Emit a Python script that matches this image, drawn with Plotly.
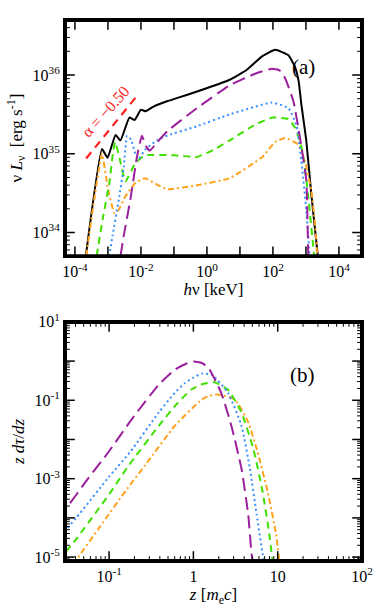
import numpy as np
import plotly.graph_objects as go
from plotly.subplots import make_subplots

# ---------------- Panel (a): spectra, log10(E/keV) vs log10(nu L_nu) ----------------
black_logE = [-3.67, -3.18, -3.01, -2.77, -2.62, -2.35, -2.19, -2.0, -1.86, -1.62, -1.19, -0.89,
              -0.3, 0.69, 1.19, 1.68, 2.07, 2.47, 2.67, 2.78, 2.86, 3.01, 3.16, 3.36]
black_logL = [33.7, 35.06, 34.95, 35.24, 35.17, 35.46, 35.43, 35.56, 35.54, 35.60, 35.67, 35.71,
              35.79, 35.94, 36.06, 36.24, 36.32, 36.25, 36.1, 35.92, 35.63, 35.17, 34.5, 33.7]

purple_logE = [-2.62, -2.52, -2.32, -2.12, -1.97, -1.85, -1.73, -1.5, -1.19, -0.3, 0.69, 1.48,
               1.97, 2.2, 2.37, 2.62, 2.77, 2.86, 3.01, 3.07]
purple_logL = [33.7, 33.96, 34.42, 34.96, 35.23, 35.1, 35.04, 35.15, 35.29, 35.58, 35.87, 36.02,
               36.08, 36.06, 35.96, 35.67, 35.33, 35.1, 34.67, 33.7]

blue_logE = [-2.96, -2.86, -2.67, -2.52, -2.42, -2.3, -2.17, -2.07, -1.88, -1.58, -1.28, -0.3,
             0.69, 1.97, 2.47, 2.72, 2.86, 3.01, 3.11]
blue_logL = [33.7, 33.96, 34.42, 34.83, 35.23, 35.18, 35.0, 34.93, 35.05, 35.15, 35.22, 35.35,
             35.5, 35.65, 35.58, 35.35, 34.92, 34.29, 33.7]

green_logE = [-3.34, -3.16, -2.96, -2.85, -2.78, -2.65, -2.47, -2.17, -1.88, -1.0, -0.3, 0.2,
              0.69, 1.5, 2.0, 2.47, 2.67, 2.81, 2.91, 3.06, 3.21, 3.25]
green_logL = [33.7, 34.17, 34.62, 35.0, 35.15, 34.95, 34.65, 34.88, 34.98, 34.98, 34.96, 35.05,
              35.17, 35.38, 35.46, 35.44, 35.33, 35.17, 35.0, 34.5, 33.87, 33.7]

orange_logE = [-3.66, -3.18, -3.01, -2.81, -2.7, -2.47, -2.17, -1.88, -1.48, -1.19, -0.3, 0.69,
               1.68, 2.07, 2.37, 2.76, 2.96, 3.16, 3.26, 3.31, 3.34]
orange_logL = [33.7, 35.0, 34.58, 34.25, 34.27, 34.46, 34.63, 34.69, 34.6, 34.55, 34.6, 34.69,
               34.96, 35.15, 35.2, 35.12, 34.92, 34.54, 34.17, 33.92, 33.7]

alpha_logE = [-3.66, -2.13]
alpha_logL = [34.94, 35.73]
alpha_label = "α = −0.50"

# ---------------- Panel (b): z dtau/dz, log10 z vs log10 value ----------------
pb_purple_logz = [-1.6, -1.53, -1.25, -1.0, -0.73, -0.41, -0.22, -0.1, 0.0, 0.1, 0.18, 0.33, 0.45, 0.57,
                  0.65, 0.69, 0.72]
pb_purple_logv = [-4.0, -3.82, -3.0, -2.3, -1.48, -0.6, -0.22, -0.08, -0.01, -0.05, -0.18, -0.81, -1.65,
                  -2.74, -3.91, -4.91, -5.3]

pb_blue_logz = [-1.6, -1.53, -1.39, -1.0, -0.75, -0.41, -0.22, -0.1, 0.0, 0.1, 0.22, 0.41, 0.57, 0.67,
                0.75, 0.82, 0.85]
pb_blue_logv = [-4.55, -4.35, -4.0, -2.95, -2.32, -1.31, -0.81, -0.56, -0.42, -0.32, -0.35, -0.81,
                -1.65, -2.74, -3.91, -4.91, -5.3]

pb_green_logz = [-1.6, -1.53, -1.39, -1.0, -0.78, -0.41, -0.2, -0.02, 0.12, 0.25, 0.41, 0.57, 0.71,
                 0.82, 0.90, 0.95]
pb_green_logv = [-5.1, -4.91, -4.54, -3.4, -2.7, -1.65, -1.1, -0.72, -0.58, -0.54, -0.73, -1.31,
                 -2.23, -3.32, -4.41, -5.3]

pb_orange_logz = [-1.42, -1.39, -1.1, -0.8, -0.57, -0.22, 0.1, 0.2, 0.29, 0.49, 0.65, 0.76, 0.88,
                  0.98, 1.03]
pb_orange_logv = [-5.2, -5.08, -4.2, -3.3, -2.65, -1.65, -0.98, -0.88, -0.85, -0.98, -1.56, -2.31,
                  -3.32, -4.41, -5.3]

# tick labels
a_x_tickvals = [1e-4, 1e-3, 1e-2, 1e-1, 1, 10, 100, 1e3, 1e4]
a_x_ticktext = ["10<sup>-4</sup>", "", "10<sup>-2</sup>", "", "10<sup>0</sup>", "", "10<sup>2</sup>", "",
                "10<sup>4</sup>"]
a_y_tickvals = [1e34, 1e35, 1e36]
a_y_ticktext = ["10<sup>34</sup>", "10<sup>35</sup>", "10<sup>36</sup>"]
b_x_tickvals = [0.1, 1, 10, 100]
b_x_ticktext = ["10<sup>-1</sup>", "1", "10", "10<sup>2</sup>"]
b_y_tickvals = [1e-5, 1e-4, 1e-3, 1e-2, 1e-1, 1, 10]
b_y_ticktext = ["10<sup>-5</sup>", "", "10<sup>-3</sup>", "", "10<sup>-1</sup>", "", "10<sup>1</sup>"]

A_XR = [float(np.log10(5e-5)), float(np.log10(5e4))]
A_YR = [float(np.log10(5e33)), float(np.log10(5e36))]
B_XR = [float(np.log10(0.03)), 2.0]
B_YR = [-5.1, 1.0]


def minor_vals(lo, hi):
    return [m * 10.0 ** d for d in range(lo, hi) for m in range(2, 10)]


P = lambda a: 10 ** np.array(a, dtype=float)

PURPLE = "#9c1f9e"
BLUE = "#3a8fff"
GREEN = "#3fe000"
ORANGE = "#ffa21f"
RED = "#ff2020"

# figure geometry (px)
W, H = 382, 611
ML, MR, MT, MB = 65, 14, 9, 50
A_DOM = [0.5634, 1.0]
B_DOM = [0.0, 0.442]
PW = W - ML - MR
PH = H - MT - MB
A_H = PH * (A_DOM[1] - A_DOM[0])
B_H = PH * (B_DOM[1] - B_DOM[0])

fig = make_subplots(rows=2, cols=1, vertical_spacing=0.0)

styles = [
    ("black", "solid", black_logE, black_logL),
    (ORANGE, "6px,3px,2px,3px", orange_logE, orange_logL),
    (GREEN, "7px,5px", green_logE, green_logL),
    (BLUE, "2px,3px", blue_logE, blue_logL),
    (PURPLE, "13px,6px", purple_logE, purple_logL),
]
for col, dash, xe, yl in styles:
    fig.add_trace(go.Scatter(x=P(xe), y=P(yl), mode="lines",
                             line=dict(color=col, width=2, dash=dash, shape="spline", smoothing=0.4),
                             showlegend=False, hoverinfo="skip"), row=1, col=1)

fig.add_trace(go.Scatter(x=P(alpha_logE), y=P(alpha_logL), mode="lines",
                         line=dict(color=RED, width=2.2, dash="8px,6px"),
                         showlegend=False, hoverinfo="skip"), row=1, col=1)

bstyles = [
    (ORANGE, "6px,3px,2px,3px", pb_orange_logz, pb_orange_logv),
    (GREEN, "7px,5px", pb_green_logz, pb_green_logv),
    (BLUE, "2px,3px", pb_blue_logz, pb_blue_logv),
    (PURPLE, "13px,6px", pb_purple_logz, pb_purple_logv),
]
for col, dash, xz, yv in bstyles:
    fig.add_trace(go.Scatter(x=P(xz), y=P(yv), mode="lines",
                             line=dict(color=col, width=2, dash=dash, shape="spline", smoothing=0.5),
                             showlegend=False, hoverinfo="skip"), row=2, col=1)


# ---- frame and tick marks as line traces, positions derived from the axis ranges ----
def x_ticks(vals, xr, yr, ph, length):
    xs, ys = [], []
    d = length / ph * (yr[1] - yr[0])
    for v in vals:
        lv = np.log10(v)
        if not (xr[0] < lv < xr[1]):
            continue
        xs += [v, v, None, v, v, None]
        ys += [10 ** yr[0], 10 ** (yr[0] + d), None, 10 ** yr[1], 10 ** (yr[1] - d), None]
    return xs, ys


def y_ticks(vals, xr, yr, pw, length):
    xs, ys = [], []
    d = length / pw * (xr[1] - xr[0])
    for v in vals:
        lv = np.log10(v)
        if not (yr[0] < lv < yr[1]):
            continue
        ys += [v, v, None, v, v, None]
        xs += [10 ** xr[0], 10 ** (xr[0] + d), None, 10 ** xr[1], 10 ** (xr[1] - d), None]
    return xs, ys


def frame(xr, yr):
    x0, x1, y0, y1 = 10 ** xr[0], 10 ** xr[1], 10 ** yr[0], 10 ** yr[1]
    return [x0, x1, x1, x0, x0], [y0, y0, y1, y1, y0]


MAJ, MIN = 10, 5
deco = {
    1: [(x_ticks(a_x_tickvals, A_XR, A_YR, A_H, MAJ), 1.5),
        (y_ticks(a_y_tickvals, A_XR, A_YR, PW, MAJ), 1.5),
        (y_ticks(minor_vals(33, 37), A_XR, A_YR, PW, MIN), 1.0),
        (frame(A_XR, A_YR), 4.0)],
    2: [(x_ticks(b_x_tickvals, B_XR, B_YR, B_H, MAJ), 1.5),
        (x_ticks(minor_vals(-2, 2), B_XR, B_YR, B_H, MIN), 1.0),
        (y_ticks(b_y_tickvals, B_XR, B_YR, PW, MAJ), 1.5),
        (y_ticks(minor_vals(-6, 1), B_XR, B_YR, PW, MIN), 1.0),
        (frame(B_XR, B_YR), 4.0)],
}
for row, items in deco.items():
    for (xs, ys), lw in items:
        fig.add_trace(go.Scatter(x=xs, y=ys, mode="lines", line=dict(color="black", width=lw),
                                 connectgaps=False, showlegend=False, hoverinfo="skip"),
                      row=row, col=1)

FONT = "Liberation Serif"
axis_common = dict(showline=True, linewidth=2, linecolor="black", mirror=True, ticks="",
                   showgrid=False, zeroline=False, tickmode="array",
                   tickfont=dict(family=FONT, size=16, color="black"))
TFONT = dict(family=FONT, size=17, color="black")

fig.update_xaxes(type="log", range=A_XR, tickvals=a_x_tickvals, ticktext=a_x_ticktext,
                 domain=[0, 1], row=1, col=1, **axis_common,
                 title=dict(text="<i>h</i>ν [keV]", font=TFONT, standoff=2))
fig.update_yaxes(type="log", range=A_YR, tickvals=a_y_tickvals, ticktext=a_y_ticktext,
                 domain=A_DOM, row=1, col=1, **axis_common,
                 title=dict(text="ν <i>L</i><sub>ν</sub>  [erg s<sup>-1</sup>]", font=TFONT, standoff=6))
fig.update_xaxes(type="log", range=B_XR, tickvals=b_x_tickvals, ticktext=b_x_ticktext,
                 domain=[0, 1], row=2, col=1, **axis_common,
                 title=dict(text="<i>z</i> [<i>m</i><sub>e</sub><i>c</i>]", font=TFONT, standoff=2))
fig.update_yaxes(type="log", range=B_YR, tickvals=b_y_tickvals, ticktext=b_y_ticktext,
                 domain=B_DOM, row=2, col=1, **axis_common,
                 title=dict(text="<i>z dτ</i>/<i>dz</i>", font=TFONT, standoff=6))

fig.add_annotation(x=-3.08, y=35.54, xref="x", yref="y", text=alpha_label, showarrow=False,
                   textangle=-48, font=dict(family=FONT, size=16, color=RED))
fig.add_annotation(x=0.848, y=0.86, xref="x domain", yref="y domain", text="(a)", showarrow=False,
                   font=dict(family=FONT, size=21, color="black"))
fig.add_annotation(x=0.848, y=0.836, xref="x2 domain", yref="y2 domain", text="(b)", showarrow=False,
                   font=dict(family=FONT, size=21, color="black"))

fig.update_layout(width=W, height=H, margin=dict(l=ML, r=MR, t=MT, b=MB),
                  paper_bgcolor="white", plot_bgcolor="white",
                  font=dict(family=FONT, color="black"))

fig.write_html("out.html", config={"displayModeBar": False},
               post_script="document.body.style.margin='0';")
